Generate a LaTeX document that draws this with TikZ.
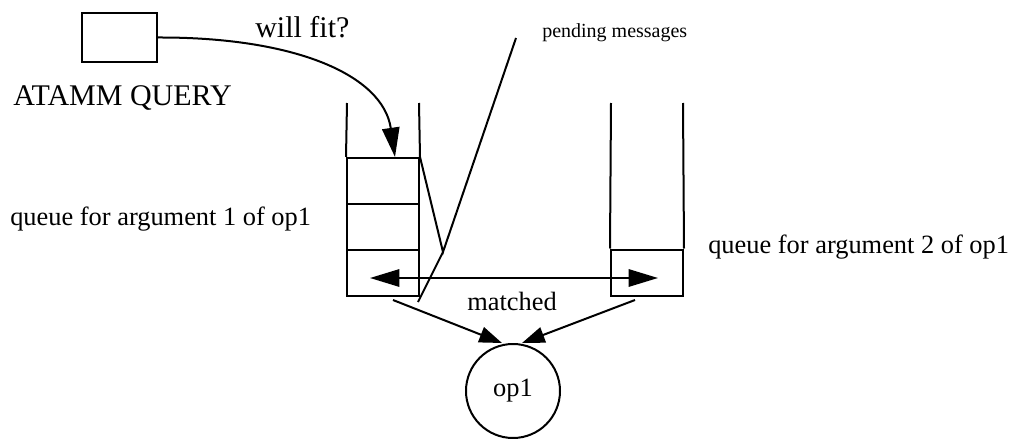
\documentclass[tikz,border=0pt]{standalone}
\usepackage{fontspec}
\setmainfont{Liberation Serif}
\usetikzlibrary{arrows.meta}
\usetikzlibrary{positioning}

\newcommand{\lblbig}{\fontsize{22.5pt}{27pt}\selectfont}
\newcommand{\lblmid}{\fontsize{19.8pt}{24pt}\selectfont}
\newcommand{\lblsmall}{\fontsize{15pt}{18pt}\selectfont}

\tikzset{
  cell/.style={draw, line width=1.5pt, minimum width=54pt, minimum height=34.5pt, inner sep=0pt},
  wall/.style={line width=1.5pt},
  bigtip/.style={-{Triangle[length=22pt,width=13pt]}},
  lbl/.style={inner sep=0pt, anchor=base west}
}

\begin{document}
\begin{tikzpicture}[x=0.75pt,y=0.75pt,yscale=-1,xscale=1]
\useasboundingbox (0,0) rectangle (1015,439);

%Query box and its label
\node [draw, line width=1.5pt, minimum width=56pt, minimum height=37pt, inner sep=0pt] (query) at (119.5,37.5) {};
\node [lbl, font=\lblbig] (querytxt) at (13,105) {ATAMM QUERY};
\node [lbl, font=\lblbig] (fittxt) at (255,37) {will fit?};

%Queue for argument 1: three pending cells
\node [cell] (qa1) at (383,181) {};
\node [cell] (qa2) at (383,227) {};
\node [cell] (qa3) at (383,273) {};
\coordinate (qatl) at (347,103);
\coordinate (qatr) at (419,103);
\draw [wall] (qa1.north west) -- (qatl);
\draw [wall] (qa1.north east) -- (qatr);

%Queue for argument 2: one cell
\node [cell] (qb1) at (647,272.5) {};
\coordinate (qbtl) at (611,103);
\coordinate (qbtr) at (683,103);
\draw [wall] (qb1.north west) -- (qbtl);
\draw [wall] (qb1.north east) -- (qbtr);

%Operator
\node [draw, circle, line width=1.5pt, minimum size=70.5pt, inner sep=0pt, font=\lblmid] (op) at (513,391) {op1};

%Query arrow
\draw [wall, bigtip] (query.east) .. controls (295,37) and (383,75) .. (qa1.north -| 395,0);

%Pending messages pointer
\coordinate (apex) at (443,252);
\coordinate (pendtop) at (516,38);
\coordinate (pendbot) at (418,302);
\draw [wall] (qa1.north east) -- (apex) -- (pendtop);
\draw [wall] (apex) -- (pendbot);
\node [lbl, font=\lblsmall] (pendtxt) at (542,37) {pending messages};

%Matched pair
\coordinate (ma) at (370,278);
\coordinate (mb) at (658,278);
\draw [wall, {Triangle[length=22pt,width=13pt]}-{Triangle[length=22pt,width=13pt]}] (ma) -- (mb);
\node [inner sep=0pt, anchor=base, font=\lblmid] (matchtxt) at (512,310) {matched};

%Matched tokens go to the operator
\coordinate (fa) at (393,300);
\coordinate (fb) at (635,300);
\draw [wall, -{Triangle[length=17pt,width=12pt]}] (fa) -- (op.north -| 502,0);
\draw [wall, -{Triangle[length=17pt,width=12pt]}] (fb) -- (op.north -| 522,0);

%Queue labels
\node [lbl, font=\lblmid] (qatxt) at (10,225) {queue for argument 1 of op1};
\node [lbl, font=\lblmid] (qbtxt) at (708,253) {queue for argument 2 of op1};

\end{tikzpicture}
\end{document}
